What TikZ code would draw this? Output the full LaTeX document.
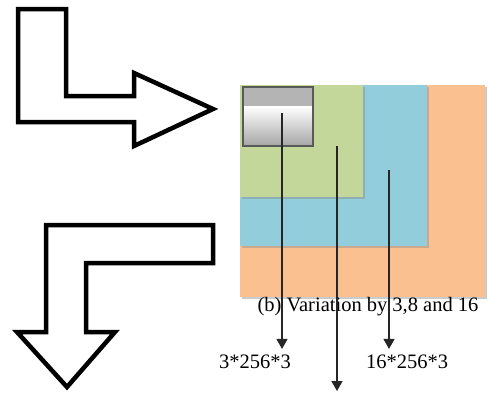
\documentclass[tikz,border=0pt]{standalone}
\usepackage{fontspec}
\setmainfont{Liberation Serif}
\usetikzlibrary{arrows.meta}
\definecolor{blkorange}{HTML}{FAC090}
\definecolor{blkblue}{HTML}{92CDDC}
\definecolor{blkgreen}{HTML}{C4D79B}
\definecolor{boxgray}{HTML}{B4B4B4}
\tikzset{
  bigarrow/.style={draw=black, line width=4.5pt, line join=miter, fill=white},
  blkshadow/.style={fill=black!45, opacity=0.45},
  dimarrow/.style={draw=black!85, line width=1.4pt, -{Triangle[width=11pt,length=10pt]}},
  lbl/.style={inner sep=0pt, font=\fontsize{20.5}{24}\selectfont}
}
\begin{document}
\begin{tikzpicture}[x=1pt, y=-1pt]
\useasboundingbox (0,0) rectangle (491,392);

% right-turning outline arrow
\draw[bigarrow] (18,9) -- (66,9) -- (66,96) -- (134,96) -- (134,73) -- (213,109)
  -- (134,146) -- (134,122) -- (18,122) -- cycle;

% down-turning outline arrow
\draw[bigarrow] (46,225) -- (213,225) -- (213,263) -- (86,263) -- (86,332)
  -- (115,332) -- (67,387) -- (17,332) -- (46,332) -- cycle;

% nested blocks with soft drop shadows
\fill[blkshadow] (242,87) rectangle (487,299);
\fill[blkorange] (240,85) rectangle (485,297);
\fill[blkshadow] (242,87) rectangle (429,248);
\fill[blkblue] (240,85) rectangle (427,246);
\fill[blkshadow] (242,87) rectangle (365,199);
\fill[blkgreen] (240,85) rectangle (363,197);

% small grey box
\fill[boxgray] (243,87) rectangle (313,106);
\shade[top color=white, bottom color=black!35] (243,106) rectangle (313,146);
\draw[black!65, line width=2pt] (243,87) rectangle (313,146);

% caption and dimension labels
\node[lbl] (cap) at (368,307) {(b) Variation by 3,8 and 16};
\node[lbl] (d3) at (255,362) {3*256*3};
\node[lbl] (d16) at (407,362) {16*256*3};

% start and end points of the dimension arrows
\coordinate (s3) at (282,113);
\coordinate (s8) at (337,146);
\coordinate (s16) at (389,170);
\coordinate (e8) at (337,391);

\draw[dimarrow] (s3) -- ([yshift=6pt]s3 |- d3.north);
\draw[dimarrow] (s8) -- (e8);
\draw[dimarrow] (s16) -- ([yshift=6pt]s16 |- d16.north);
\end{tikzpicture}
\end{document}
